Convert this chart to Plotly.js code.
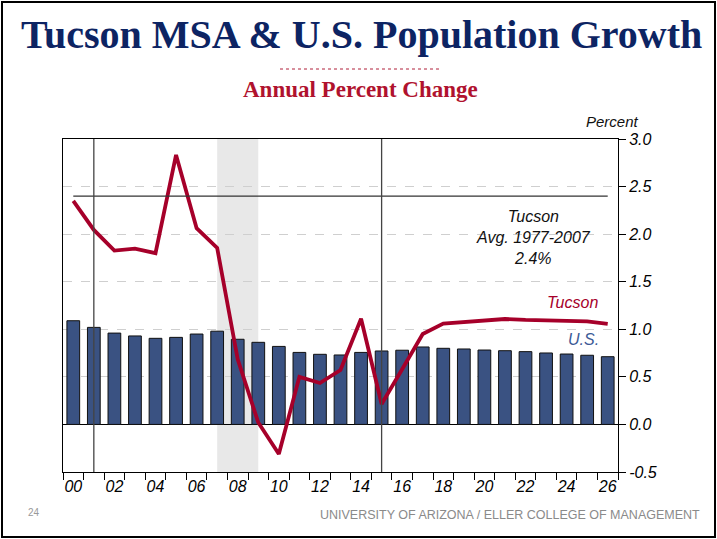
<!DOCTYPE html>
<html>
<head>
<meta charset="utf-8">
<script src="https://cdn.plot.ly/plotly-3.0.1.min.js"></script>
<style>
  html, body { margin: 0; padding: 0; background: #fff; }
  #wrap { position: relative; width: 717px; height: 539px; }
  #chart { width: 717px; height: 539px; }
  #frame { position: absolute; left: 1px; top: 1px; width: 711px; height: 533px;
           border: 2px solid #000; pointer-events: none; }
</style>
</head>
<body>
<div id="wrap">
  <div id="chart"></div>
  <div id="frame"></div>
</div>
<script>
// ---- data ----
const years = [2000,2001,2002,2003,2004,2005,2006,2007,2008,2009,2010,2011,2012,2013,
               2014,2015,2016,2017,2018,2019,2020,2021,2022,2023,2024,2025,2026];
const usGrowth = [1.09,1.02,0.96,0.93,0.905,0.915,0.95,0.98,0.895,0.863,0.82,0.757,0.737,0.73,
                  0.757,0.772,0.78,0.814,0.80,0.793,0.782,0.775,0.765,0.751,0.74,0.727,0.712];
const tucsonGrowth = [2.35,2.044,1.827,1.848,1.80,2.833,2.062,1.855,0.684,0.02,-0.311,0.50,0.435,0.572,
                      1.11,0.214,0.58,0.95,1.059,1.073,1.09,1.108,1.098,1.094,1.094,1.084,1.056];
const tucsonAvg = 2.4;
const avgLabel = ["Tucson", "Avg. 1977-2007", "2.4%"];
const vLineYears = [2001, 2015];
const recession = [2007, 2009];
const tickLabelYears = [2000,2002,2004,2006,2008,2010,2012,2014,2016,2018,2020,2022,2024,2026];
const yTicks = [-0.5,0,0.5,1.0,1.5,2.0,2.5,3.0];

const tickText = tickLabelYears.map(y => String(y % 100).padStart(2, "0"));
const boundaries = [];
for (let i = 0; i <= years.length; i++) boundaries.push(years[0] - 0.5 + i);

const italicFont = {family: "Liberation Sans, Arial, sans-serif", size: 16, color: "#000", style: "italic"};

const traces = [
  {
    type: "bar", x: years, y: usGrowth, width: 0.62,
    marker: {color: "#3a5282", line: {color: "#111", width: 1}},
    hoverinfo: "x+y", name: "U.S."
  },
  {
    type: "scatter", mode: "lines", x: years, y: tucsonGrowth,
    line: {color: "#a6002a", width: 3.8}, name: "Tucson"
  }
];

const shapes = [
  {type: "rect", xref: "x", yref: "paper", x0: recession[0], x1: recession[1], y0: 0, y1: 1,
   fillcolor: "#e8e8e8", line: {width: 0}, layer: "below"},
  {type: "line", xref: "x", yref: "y", x0: years[0], x1: years[years.length-1], y0: tucsonAvg, y1: tucsonAvg,
   line: {color: "#333", width: 1.3}},
  // dotted red rule under title
  {type: "line", xref: "paper", yref: "paper",
   x0: (280-63)/555, x1: (441-63)/555, y0: (472-69)/333, y1: (472-69)/333,
   line: {color: "#b0203a", width: 1, dash: "dot"}}
];
vLineYears.forEach(v => shapes.push({type: "line", xref: "x", yref: "paper", x0: v, x1: v, y0: 0, y1: 1,
  line: {color: "#444", width: 1.3}}));

const annotations = [
  {xref: "x", yref: "y", x: 2022.4, y: 1.97, text: avgLabel.join("<br>"), showarrow: false,
   font: {family: "Liberation Sans, Arial, sans-serif", size: 16, color: "#111", style: "italic"}, align: "center"},
  {xref: "x", yref: "y", x: 2024.3, y: 1.28, text: "Tucson", showarrow: false,
   font: {family: "Liberation Sans, Arial, sans-serif", size: 16, color: "#a6002a", style: "italic"}},
  {xref: "x", yref: "y", x: 2024.8, y: 0.89, text: "U.S.", showarrow: false,
   font: {family: "Liberation Sans, Arial, sans-serif", size: 16, color: "#3c5a96", style: "italic"}},
  {xref: "paper", yref: "paper", x: (612-63)/555, y: (472-121)/333, text: "Percent", showarrow: false,
   xanchor: "center", yanchor: "middle",
   font: {family: "Liberation Sans, Arial, sans-serif", size: 15, color: "#111", style: "italic"}},
  {xref: "paper", yref: "paper", x: (361-63)/555, y: (472-35)/333, text: "<b>Tucson MSA &amp; U.S. Population Growth</b>",
   showarrow: false, xanchor: "center", yanchor: "middle",
   font: {family: "Liberation Serif, Times New Roman, serif", size: 40, color: "#0d2463"}},
  {xref: "paper", yref: "paper", x: (360-63)/555, y: (472-89)/333, text: "<b>Annual Percent Change</b>",
   showarrow: false, xanchor: "center", yanchor: "middle",
   font: {family: "Liberation Serif, Times New Roman, serif", size: 23, color: "#b0122e"}},
  {xref: "paper", yref: "paper", x: (34-63)/555, y: (472-512)/333, text: "24",
   showarrow: false, xanchor: "center", yanchor: "middle",
   font: {family: "Liberation Sans, Arial, sans-serif", size: 10, color: "#999"}},
  {xref: "paper", yref: "paper", x: (702-63)/555, y: (472-515)/333,
   text: "UNIVERSITY OF ARIZONA / ELLER COLLEGE OF MANAGEMENT",
   showarrow: false, xanchor: "right", yanchor: "middle",
   font: {family: "Liberation Sans, Arial, sans-serif", size: 12.5, color: "#8a8a8a"}}
];

const layout = {
  width: 717, height: 539,
  margin: {l: 63, r: 99, t: 139, b: 67},
  paper_bgcolor: "#fff", plot_bgcolor: "#fff",
  showlegend: false,
  xaxis: {
    range: [years[0]-0.5, years[years.length-1]+0.5],
    tickvals: tickLabelYears, ticktext: tickText, ticks: "",
    tickfont: italicFont,
    showgrid: false, zeroline: false,
    showline: true, linecolor: "#000", linewidth: 1, mirror: true,
    minor: {tickvals: boundaries, ticks: "outside", ticklen: 7, tickcolor: "#000", tickwidth: 1, showgrid: false},
    fixedrange: true
  },
  yaxis: {
    side: "right", range: [-0.5, 3.0],
    tickvals: yTicks, ticktext: yTicks.map(v => v.toFixed(1)),
    ticks: "outside", ticklen: 7, tickcolor: "#000",
    tickfont: italicFont,
    showgrid: true, gridcolor: "#cfcfcf", griddash: "dash", gridwidth: 1,
    zeroline: true, zerolinecolor: "#000", zerolinewidth: 1.2,
    showline: true, linecolor: "#000", linewidth: 1, mirror: true,
    fixedrange: true
  },
  shapes: shapes,
  annotations: annotations
};

Plotly.newPlot("chart", traces, layout, {displayModeBar: false, staticPlot: true});
</script>
</body>
</html>
